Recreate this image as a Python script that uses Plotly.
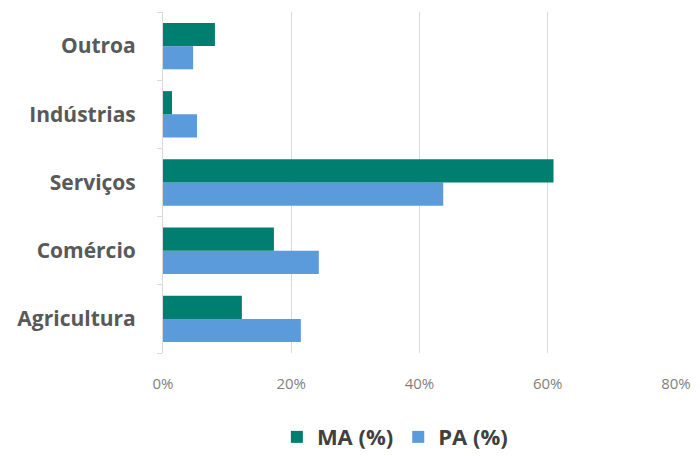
import plotly.graph_objects as go

categories = ["Agricultura", "Comércio", "Serviços", "Indústrias", "Outroa"]
ma_values = [12.3, 17.3, 60.9, 1.4, 8.1]
pa_values = [21.5, 24.3, 43.7, 5.3, 4.7]
x_ticks = [0, 20, 40, 60, 80]
x_tick_labels = ["0%", "20%", "40%", "60%", "80%"]

fig = go.Figure()
fig.add_trace(go.Bar(
    y=categories, x=pa_values, name="PA (%)", orientation="h",
    marker=dict(color="#5B9BDB", line=dict(width=0)), legendrank=2,
))
fig.add_trace(go.Bar(
    y=categories, x=ma_values, name="MA (%)", orientation="h",
    marker=dict(color="#007F70", line=dict(width=0)), legendrank=1,
))

fig.update_layout(
    width=692, height=448,
    margin=dict(l=155, r=24, t=4, b=103, autoexpand=False),
    paper_bgcolor="white", plot_bgcolor="white",
    barmode="group", bargap=0.32, bargroupgap=0,
    font=dict(family="Open Sans", color="#595959"),
    showlegend=True,
    legend=dict(
        orientation="h", x=0.452, xanchor="center", y=-0.185, yanchor="top",
        font=dict(size=22, color="#404040", family="Open Sans", weight="bold"),
        traceorder="normal",
    ),
    xaxis=dict(
        range=[0, 80], tickvals=x_ticks, ticktext=x_tick_labels,
        showgrid=True, gridcolor="#D9D9D9", gridwidth=1,
        zeroline=False, showline=False, automargin=False,
        tickfont=dict(size=15, color="#7F7F7F"),
        ticklabelstandoff=20,
    ),
    yaxis=dict(
        type="category", categoryorder="array", categoryarray=categories,
        showline=True, linecolor="#D9D9D9", linewidth=1, automargin=False,
        ticks="outside", tickson="boundaries", ticklen=5, tickcolor="#D9D9D9",
        tickfont=dict(size=21, color="#595959", family="Open Sans", weight="bold"),
        ticklabelstandoff=22, showgrid=False,
    ),
)

fig.write_html("out.html")
